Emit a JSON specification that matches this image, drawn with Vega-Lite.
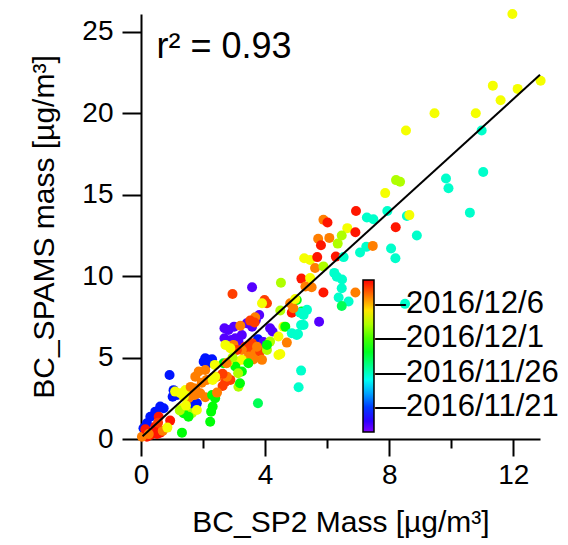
{
  "$schema": "https://vega.github.io/schema/vega-lite/v6.json",
  "width": 399,
  "height": 425,
  "autosize": {"type": "none"},
  "padding": {"left": 141, "top": 14, "right": 28, "bottom": 106},
  "config": {
    "view": {"stroke": null},
    "font": "Liberation Sans",
    "axis": {
      "grid": false,
      "domainColor": "black",
      "domainWidth": 2,
      "tickColor": "black",
      "tickWidth": 2,
      "labelColor": "black",
      "labelFont": "Liberation Sans",
      "labelFontSize": 28,
      "labelFlush": false,
      "labelOverlap": false,
      "titleColor": "black",
      "titleFont": "Liberation Sans",
      "titleFontSize": 30,
      "titleFontWeight": "normal"
    }
  },
  "datasets": {
    "points": [
      {"sp2": 11.97, "spams": 26.1, "date": "2016-12-04T08:00:00"},
      {"sp2": 12.88, "spams": 22.0, "date": "2016-12-04T08:00:00"},
      {"sp2": 11.34, "spams": 21.7, "date": "2016-12-04T08:00:00"},
      {"sp2": 12.14, "spams": 21.5, "date": "2016-12-04T08:00:00"},
      {"sp2": 11.59, "spams": 20.8, "date": "2016-12-04T08:00:00"},
      {"sp2": 9.46, "spams": 20.0, "date": "2016-12-04T08:00:00"},
      {"sp2": 10.79, "spams": 20.0, "date": "2016-12-04T08:00:00"},
      {"sp2": 8.54, "spams": 18.95, "date": "2016-12-04T08:00:00"},
      {"sp2": 10.98, "spams": 18.95, "date": "2016-11-25T18:00:00"},
      {"sp2": 9.83, "spams": 16.0, "date": "2016-11-25T18:00:00"},
      {"sp2": 9.91, "spams": 15.4, "date": "2016-11-25T18:00:00"},
      {"sp2": 11.03, "spams": 16.4, "date": "2016-11-25T18:00:00"},
      {"sp2": 10.6, "spams": 13.9, "date": "2016-11-25T18:00:00"},
      {"sp2": 8.22, "spams": 15.9, "date": "2016-12-03T00:00:00"},
      {"sp2": 8.35, "spams": 15.8, "date": "2016-12-03T00:00:00"},
      {"sp2": 7.87, "spams": 15.1, "date": "2016-12-04T08:00:00"},
      {"sp2": 7.94, "spams": 14.0, "date": "2016-11-25T18:00:00"},
      {"sp2": 8.57, "spams": 13.7, "date": "2016-11-25T18:00:00"},
      {"sp2": 8.65, "spams": 13.75, "date": "2016-12-04T08:00:00"},
      {"sp2": 8.21, "spams": 13.0, "date": "2016-12-09T00:00:00"},
      {"sp2": 8.89, "spams": 12.5, "date": "2016-11-25T18:00:00"},
      {"sp2": 8.06, "spams": 11.7, "date": "2016-11-25T18:00:00"},
      {"sp2": 8.2, "spams": 11.1, "date": "2016-11-25T18:00:00"},
      {"sp2": 6.93, "spams": 14.0, "date": "2016-12-09T00:00:00"},
      {"sp2": 7.28, "spams": 13.6, "date": "2016-11-25T18:00:00"},
      {"sp2": 7.49, "spams": 13.5, "date": "2016-11-25T18:00:00"},
      {"sp2": 5.88, "spams": 13.46, "date": "2016-12-07T00:00:00"},
      {"sp2": 6.01, "spams": 13.3, "date": "2016-12-09T00:00:00"},
      {"sp2": 6.65, "spams": 12.95, "date": "2016-12-04T08:00:00"},
      {"sp2": 6.47, "spams": 12.5, "date": "2016-12-03T00:00:00"},
      {"sp2": 6.91, "spams": 12.7, "date": "2016-12-09T00:00:00"},
      {"sp2": 5.71, "spams": 12.3, "date": "2016-12-07T00:00:00"},
      {"sp2": 6.07, "spams": 12.35, "date": "2016-12-07T00:00:00"},
      {"sp2": 5.8, "spams": 11.9, "date": "2016-12-09T00:00:00"},
      {"sp2": 6.34, "spams": 12.0, "date": "2016-12-03T00:00:00"},
      {"sp2": 7.26, "spams": 11.8, "date": "2016-11-25T18:00:00"},
      {"sp2": 7.06, "spams": 11.45, "date": "2016-11-25T18:00:00"},
      {"sp2": 7.47, "spams": 11.86, "date": "2016-12-07T00:00:00"},
      {"sp2": 5.26, "spams": 11.1, "date": "2016-12-04T08:00:00"},
      {"sp2": 5.45, "spams": 11.0, "date": "2016-12-04T08:00:00"},
      {"sp2": 5.68, "spams": 11.17, "date": "2016-12-09T00:00:00"},
      {"sp2": 6.28, "spams": 11.2, "date": "2016-12-09T00:00:00"},
      {"sp2": 5.61, "spams": 10.5, "date": "2016-12-07T00:00:00"},
      {"sp2": 5.88, "spams": 10.6, "date": "2016-12-03T00:00:00"},
      {"sp2": 6.53, "spams": 11.17, "date": "2016-11-25T18:00:00"},
      {"sp2": 6.23, "spams": 10.2, "date": "2016-11-25T18:00:00"},
      {"sp2": 6.31, "spams": 9.97, "date": "2016-11-25T18:00:00"},
      {"sp2": 6.48, "spams": 9.8, "date": "2016-11-25T18:00:00"},
      {"sp2": 6.47, "spams": 9.26, "date": "2016-11-25T18:00:00"},
      {"sp2": 5.17, "spams": 9.85, "date": "2016-12-09T00:00:00"},
      {"sp2": 5.45, "spams": 9.88, "date": "2016-12-04T08:00:00"},
      {"sp2": 4.51, "spams": 9.6, "date": "2016-12-03T00:00:00"},
      {"sp2": 5.3, "spams": 9.36, "date": "2016-12-07T00:00:00"},
      {"sp2": 5.5, "spams": 9.32, "date": "2016-12-07T00:00:00"},
      {"sp2": 5.88, "spams": 9.0, "date": "2016-12-09T00:00:00"},
      {"sp2": 6.91, "spams": 9.0, "date": "2016-12-07T00:00:00"},
      {"sp2": 6.37, "spams": 8.69, "date": "2016-11-25T18:00:00"},
      {"sp2": 6.69, "spams": 8.44, "date": "2016-11-25T18:00:00"},
      {"sp2": 8.51, "spams": 8.3, "date": "2016-11-25T18:00:00"},
      {"sp2": 3.58, "spams": 9.32, "date": "2016-11-18T06:00:00"},
      {"sp2": 5.74, "spams": 7.2, "date": "2016-11-18T06:00:00"},
      {"sp2": 6.47, "spams": 8.17, "date": "2016-11-28T00:00:00"},
      {"sp2": 2.95, "spams": 8.9, "date": "2016-12-08T06:00:00"},
      {"sp2": 5.06, "spams": 6.45, "date": "2016-11-25T18:00:00"},
      {"sp2": 5.16, "spams": 7.0, "date": "2016-11-25T18:00:00"},
      {"sp2": 5.16, "spams": 4.2, "date": "2016-11-25T18:00:00"},
      {"sp2": 5.08, "spams": 3.18, "date": "2016-11-25T18:00:00"},
      {"sp2": 3.77, "spams": 2.19, "date": "2016-11-28T00:00:00"},
      {"sp2": 1.32, "spams": 0.39, "date": "2016-11-29T12:00:00"},
      {"sp2": 2.23, "spams": 1.06, "date": "2016-11-29T12:00:00"},
      {"sp2": 2.26, "spams": 1.68, "date": "2016-11-29T12:00:00"},
      {"sp2": 2.31, "spams": 1.99, "date": "2016-11-29T12:00:00"},
      {"sp2": 2.69, "spams": 6.8, "date": "2016-11-18T06:00:00"},
      {"sp2": 2.82, "spams": 6.7, "date": "2016-11-18T06:00:00"},
      {"sp2": 3.0, "spams": 6.9, "date": "2016-11-18T06:00:00"},
      {"sp2": 2.69, "spams": 6.19, "date": "2016-11-18T06:00:00"},
      {"sp2": 2.91, "spams": 6.08, "date": "2016-11-18T06:00:00"},
      {"sp2": 3.04, "spams": 6.19, "date": "2016-11-18T06:00:00"},
      {"sp2": 3.14, "spams": 5.98, "date": "2016-11-18T06:00:00"},
      {"sp2": 3.25, "spams": 6.39, "date": "2016-11-18T06:00:00"},
      {"sp2": 3.41, "spams": 7.11, "date": "2016-11-18T06:00:00"},
      {"sp2": 3.58, "spams": 6.9, "date": "2016-11-18T06:00:00"},
      {"sp2": 3.81, "spams": 7.62, "date": "2016-11-18T06:00:00"},
      {"sp2": 3.7, "spams": 7.3, "date": "2016-11-18T06:00:00"},
      {"sp2": 4.16, "spams": 6.8, "date": "2016-11-18T06:00:00"},
      {"sp2": 4.24, "spams": 6.6, "date": "2016-11-18T06:00:00"},
      {"sp2": 2.07, "spams": 4.96, "date": "2016-11-20T06:00:00"},
      {"sp2": 2.18, "spams": 4.86, "date": "2016-11-20T06:00:00"},
      {"sp2": 2.29, "spams": 4.9, "date": "2016-11-20T06:00:00"},
      {"sp2": 2.02, "spams": 4.75, "date": "2016-11-20T06:00:00"},
      {"sp2": 2.16, "spams": 4.65, "date": "2016-11-20T06:00:00"},
      {"sp2": 0.92, "spams": 3.93, "date": "2016-11-20T06:00:00"},
      {"sp2": 1.05, "spams": 3.0, "date": "2016-11-20T06:00:00"},
      {"sp2": 1.16, "spams": 2.7, "date": "2016-11-20T06:00:00"},
      {"sp2": 1.02, "spams": 2.6, "date": "2016-11-20T06:00:00"},
      {"sp2": 0.62, "spams": 1.99, "date": "2016-11-20T06:00:00"},
      {"sp2": 0.73, "spams": 1.89, "date": "2016-11-20T06:00:00"},
      {"sp2": 0.46, "spams": 1.68, "date": "2016-11-20T06:00:00"},
      {"sp2": 0.3, "spams": 1.37, "date": "2016-11-20T06:00:00"},
      {"sp2": 0.19, "spams": 0.96, "date": "2016-11-20T06:00:00"},
      {"sp2": 0.08, "spams": 0.66, "date": "2016-11-20T06:00:00"},
      {"sp2": 1.8, "spams": 2.19, "date": "2016-11-20T06:00:00"},
      {"sp2": 1.59, "spams": 2.09, "date": "2016-11-20T06:00:00"},
      {"sp2": 1.32, "spams": 2.7, "date": "2016-11-20T06:00:00"},
      {"sp2": 3.77, "spams": 6.13, "date": "2016-11-20T06:00:00"},
      {"sp2": 3.95, "spams": 5.96, "date": "2016-11-18T06:00:00"},
      {"sp2": 0.41, "spams": 0.45, "date": "2016-12-09T00:00:00"},
      {"sp2": 0.52, "spams": 0.31, "date": "2016-12-09T00:00:00"},
      {"sp2": 0.3, "spams": 0.25, "date": "2016-12-09T00:00:00"},
      {"sp2": 0.62, "spams": 0.39, "date": "2016-12-09T00:00:00"},
      {"sp2": 0.19, "spams": 0.14, "date": "2016-12-09T00:00:00"},
      {"sp2": 0.03, "spams": 0.14, "date": "2016-12-07T00:00:00"},
      {"sp2": 0.46, "spams": 0.76, "date": "2016-12-09T00:00:00"},
      {"sp2": 0.14, "spams": 0.6, "date": "2016-12-09T00:00:00"},
      {"sp2": 0.94, "spams": 1.13, "date": "2016-12-09T00:00:00"},
      {"sp2": 0.57, "spams": 1.37, "date": "2016-12-09T00:00:00"},
      {"sp2": 1.96, "spams": 3.46, "date": "2016-12-07T00:00:00"},
      {"sp2": 2.12, "spams": 3.63, "date": "2016-12-07T00:00:00"},
      {"sp2": 2.29, "spams": 3.73, "date": "2016-12-07T00:00:00"},
      {"sp2": 2.45, "spams": 3.83, "date": "2016-12-07T00:00:00"},
      {"sp2": 1.75, "spams": 3.83, "date": "2016-12-07T00:00:00"},
      {"sp2": 1.86, "spams": 4.14, "date": "2016-12-07T00:00:00"},
      {"sp2": 2.07, "spams": 4.24, "date": "2016-12-07T00:00:00"},
      {"sp2": 1.73, "spams": 2.7, "date": "2016-12-07T00:00:00"},
      {"sp2": 1.91, "spams": 2.81, "date": "2016-12-07T00:00:00"},
      {"sp2": 2.07, "spams": 2.56, "date": "2016-12-07T00:00:00"},
      {"sp2": 1.53, "spams": 2.5, "date": "2016-12-07T00:00:00"},
      {"sp2": 2.72, "spams": 3.52, "date": "2016-12-08T06:00:00"},
      {"sp2": 2.88, "spams": 3.63, "date": "2016-12-08T06:00:00"},
      {"sp2": 2.77, "spams": 3.83, "date": "2016-12-07T00:00:00"},
      {"sp2": 2.63, "spams": 3.26, "date": "2016-12-08T06:00:00"},
      {"sp2": 3.36, "spams": 5.67, "date": "2016-12-08T06:00:00"},
      {"sp2": 3.52, "spams": 5.47, "date": "2016-12-08T06:00:00"},
      {"sp2": 3.68, "spams": 5.27, "date": "2016-12-07T00:00:00"},
      {"sp2": 3.47, "spams": 5.06, "date": "2016-12-07T00:00:00"},
      {"sp2": 3.63, "spams": 4.9, "date": "2016-12-07T00:00:00"},
      {"sp2": 3.84, "spams": 5.37, "date": "2016-12-08T06:00:00"},
      {"sp2": 3.58, "spams": 5.88, "date": "2016-12-08T06:00:00"},
      {"sp2": 3.74, "spams": 5.67, "date": "2016-12-07T00:00:00"},
      {"sp2": 3.25, "spams": 5.47, "date": "2016-12-07T00:00:00"},
      {"sp2": 3.9, "spams": 4.86, "date": "2016-12-07T00:00:00"},
      {"sp2": 2.98, "spams": 5.78, "date": "2016-12-07T00:00:00"},
      {"sp2": 3.09, "spams": 5.47, "date": "2016-12-08T06:00:00"},
      {"sp2": 3.2, "spams": 6.95, "date": "2016-12-07T00:00:00"},
      {"sp2": 3.68, "spams": 7.48, "date": "2016-12-07T00:00:00"},
      {"sp2": 4.06, "spams": 8.34, "date": "2016-12-08T06:00:00"},
      {"sp2": 3.98, "spams": 8.54, "date": "2016-12-08T06:00:00"},
      {"sp2": 3.52, "spams": 7.27, "date": "2016-12-08T06:00:00"},
      {"sp2": 3.66, "spams": 7.15, "date": "2016-12-08T06:00:00"},
      {"sp2": 4.86, "spams": 7.76, "date": "2016-12-09T00:00:00"},
      {"sp2": 4.7, "spams": 5.92, "date": "2016-12-07T00:00:00"},
      {"sp2": 2.63, "spams": 4.0, "date": "2016-12-08T06:00:00"},
      {"sp2": 1.1, "spams": 2.91, "date": "2016-12-04T08:00:00"},
      {"sp2": 1.27, "spams": 2.81, "date": "2016-12-04T08:00:00"},
      {"sp2": 1.43, "spams": 3.01, "date": "2016-12-04T08:00:00"},
      {"sp2": 1.38, "spams": 2.6, "date": "2016-12-04T08:00:00"},
      {"sp2": 1.32, "spams": 1.89, "date": "2016-12-04T08:00:00"},
      {"sp2": 1.48, "spams": 1.68, "date": "2016-12-04T08:00:00"},
      {"sp2": 1.64, "spams": 1.58, "date": "2016-12-03T00:00:00"},
      {"sp2": 1.8, "spams": 1.78, "date": "2016-12-04T08:00:00"},
      {"sp2": 2.72, "spams": 5.78, "date": "2016-12-04T08:00:00"},
      {"sp2": 2.88, "spams": 5.57, "date": "2016-12-04T08:00:00"},
      {"sp2": 2.39, "spams": 3.83, "date": "2016-12-04T08:00:00"},
      {"sp2": 2.31, "spams": 3.63, "date": "2016-12-04T08:00:00"},
      {"sp2": 3.09, "spams": 4.75, "date": "2016-12-04T08:00:00"},
      {"sp2": 3.25, "spams": 4.86, "date": "2016-12-04T08:00:00"},
      {"sp2": 4.43, "spams": 5.16, "date": "2016-12-04T08:00:00"},
      {"sp2": 4.43, "spams": 6.29, "date": "2016-12-04T08:00:00"},
      {"sp2": 4.59, "spams": 6.9, "date": "2016-12-04T08:00:00"},
      {"sp2": 3.9, "spams": 8.34, "date": "2016-12-04T08:00:00"},
      {"sp2": 3.14, "spams": 3.21, "date": "2016-12-03T00:00:00"},
      {"sp2": 4.16, "spams": 5.98, "date": "2016-12-03T00:00:00"},
      {"sp2": 4.06, "spams": 5.47, "date": "2016-12-03T00:00:00"},
      {"sp2": 3.04, "spams": 4.45, "date": "2016-11-29T12:00:00"},
      {"sp2": 3.25, "spams": 4.14, "date": "2016-11-29T12:00:00"},
      {"sp2": 2.29, "spams": 2.7, "date": "2016-11-29T12:00:00"},
      {"sp2": 2.39, "spams": 2.5, "date": "2016-11-29T12:00:00"},
      {"sp2": 1.37, "spams": 1.58, "date": "2016-11-29T12:00:00"},
      {"sp2": 1.53, "spams": 1.37, "date": "2016-11-29T12:00:00"},
      {"sp2": 5.02, "spams": 8.54, "date": "2016-11-29T12:00:00"},
      {"sp2": 5.18, "spams": 7.83, "date": "2016-11-29T12:00:00"},
      {"sp2": 4.06, "spams": 5.78, "date": "2016-11-29T12:00:00"},
      {"sp2": 4.65, "spams": 6.9, "date": "2016-11-29T12:00:00"},
      {"sp2": 2.66, "spams": 4.65, "date": "2016-11-29T12:00:00"},
      {"sp2": 4.86, "spams": 6.5, "date": "2016-11-25T18:00:00"},
      {"sp2": 4.49, "spams": 7.89, "date": "2016-12-03T00:00:00"},
      {"sp2": 5.35, "spams": 7.93, "date": "2016-11-25T18:00:00"},
      {"sp2": 5.24, "spams": 7.62, "date": "2016-11-25T18:00:00"},
      {"sp2": 5.13, "spams": 7.76, "date": "2016-11-25T18:00:00"},
      {"sp2": 4.81, "spams": 8.34, "date": "2016-12-07T00:00:00"},
      {"sp2": 4.91, "spams": 8.03, "date": "2016-12-07T00:00:00"},
      {"sp2": 4.97, "spams": 8.59, "date": "2016-12-04T08:00:00"},
      {"sp2": 5.24, "spams": 7.0, "date": "2016-11-25T18:00:00"},
      {"sp2": 5.02, "spams": 6.39, "date": "2016-11-25T18:00:00"},
      {"sp2": 4.49, "spams": 5.22, "date": "2016-12-04T08:00:00"},
      {"sp2": 0.7, "spams": 0.5, "date": "2016-12-07T00:00:00"},
      {"sp2": 0.25, "spams": 0.3, "date": "2016-12-07T00:00:00"},
      {"sp2": 0.55, "spams": 1.0, "date": "2016-12-08T06:00:00"},
      {"sp2": 0.85, "spams": 0.7, "date": "2016-12-04T08:00:00"},
      {"sp2": 1.6, "spams": 3.2, "date": "2016-12-07T00:00:00"},
      {"sp2": 1.75, "spams": 3.1, "date": "2016-12-07T00:00:00"},
      {"sp2": 1.25, "spams": 1.75, "date": "2016-12-03T00:00:00"},
      {"sp2": 1.45, "spams": 2.05, "date": "2016-12-04T08:00:00"},
      {"sp2": 2.45, "spams": 2.85, "date": "2016-12-07T00:00:00"},
      {"sp2": 3.13, "spams": 4.04, "date": "2016-12-03T00:00:00"},
      {"sp2": 3.19, "spams": 3.42, "date": "2016-11-29T12:00:00"},
      {"sp2": 2.8, "spams": 4.7, "date": "2016-12-04T08:00:00"},
      {"sp2": 2.95, "spams": 5.0, "date": "2016-12-03T00:00:00"},
      {"sp2": 2.38, "spams": 4.55, "date": "2016-12-04T08:00:00"},
      {"sp2": 2.76, "spams": 4.65, "date": "2016-12-07T00:00:00"},
      {"sp2": 3.46, "spams": 4.65, "date": "2016-11-29T12:00:00"}
    ],
    "fit": [
      {"sp2": 0.05, "spams": 0.17},
      {"sp2": 12.86, "spams": 22.37}
    ]
  },
  "layer": [
    {
      "data": {"name": "points"},
      "mark": {"type": "circle", "size": 100, "opacity": 1},
      "encoding": {
        "x": {
          "field": "sp2",
          "type": "quantitative",
          "title": "BC_SP2 Mass [µg/m³]",
          "scale": {"domain": [0, 12.86], "nice": false, "zero": false},
          "axis": {
            "values": [0, 1, 2, 3, 4, 5, 6, 7, 8, 9, 10, 11, 12],
            "labelExpr": "datum.value % 4 === 0 ? datum.label : ''",
            "tickSize": {"condition": {"test": "datum.value % 4 === 0", "value": 17}, "value": 9},
            "labelPadding": 5,
            "titleY": 92,
            "titleBaseline": "alphabetic"
          }
        },
        "y": {
          "field": "spams",
          "type": "quantitative",
          "title": "BC_SPAMS mass [µg/m³]",
          "scale": {"domain": [0, 26.1], "nice": false, "zero": false},
          "axis": {
            "values": [0, 5, 10, 15, 20, 25],
            "tickSize": 19,
            "labelPadding": 9,
            "titleX": -88,
            "titleBaseline": "alphabetic"
          }
        },
        "color": {
          "field": "date",
          "type": "temporal",
          "scale": {
            "domain": [
              {"year": 2016, "month": 11, "date": 17, "hours": 10},
              {"year": 2016, "month": 12, "date": 9, "hours": 10}
            ],
            "range": ["hsl(270,100%,50%)", "hsl(0,100%,50%)"],
            "interpolate": "hsl-long"
          },
          "legend": {
            "orient": "none",
            "legendX": 222,
            "legendY": 266,
            "direction": "vertical",
            "title": null,
            "padding": 0,
            "gradientLength": 152,
            "gradientThickness": 11,
            "gradientStrokeColor": "black",
            "gradientStrokeWidth": 1.5,
            "values": [
              {"year": 2016, "month": 11, "date": 21},
              {"year": 2016, "month": 11, "date": 26},
              {"year": 2016, "month": 12, "date": 1},
              {"year": 2016, "month": 12, "date": 6}
            ],
            "labelExpr": "'—' + timeFormat(datum.value, '%Y/%-m/%-d')",
            "labelFont": "Liberation Sans",
            "labelFontSize": 31,
            "labelColor": "black",
            "labelOffset": 1,
            "labelOverlap": false,
            "labelLimit": 400
          }
        }
      }
    },
    {
      "data": {"name": "fit"},
      "mark": {"type": "line", "color": "black", "strokeWidth": 2},
      "encoding": {
        "x": {"field": "sp2", "type": "quantitative"},
        "y": {"field": "spams", "type": "quantitative"}
      }
    },
    {
      "data": {"values": [{}]},
      "mark": {
        "type": "text",
        "text": "r² = 0.93",
        "align": "left",
        "baseline": "alphabetic",
        "font": "Liberation Sans",
        "fontSize": 36,
        "color": "black"
      },
      "encoding": {
        "x": {"datum": 0.5, "type": "quantitative"},
        "y": {"datum": 23.4, "type": "quantitative"}
      }
    }
  ]
}
